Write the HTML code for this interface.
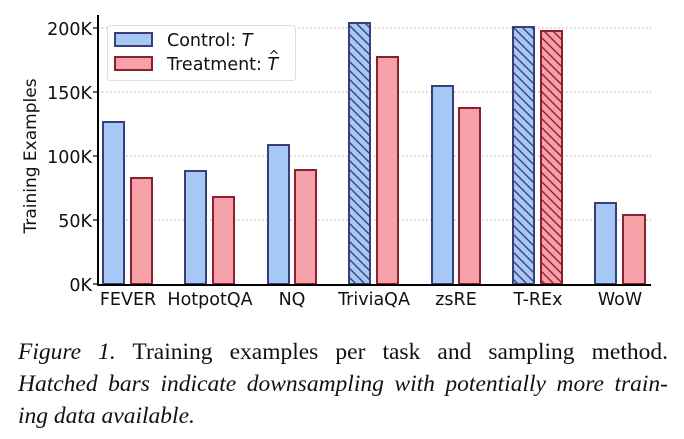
<!DOCTYPE html>
<html><head><style>
body{margin:0;background:#fff;width:684px;height:439px;overflow:hidden}
.cap{position:absolute;left:18px;width:650px;top:336px;font-family:"Liberation Serif",serif;font-size:23.5px;line-height:32px;color:#111}
.j{text-align:justify;text-align-last:justify;white-space:nowrap}
</style></head><body>
<svg width="684" height="330" style="position:absolute;left:0;top:0" font-family="DejaVu Sans, sans-serif">
<defs>
<pattern id="hb" patternUnits="userSpaceOnUse" width="9" height="9">
<rect width="9" height="9" fill="#a6c8f4"/>
<path d="M-1,-1 L10,10 M-10,-1 L1,10 M8,-1 L19,10" stroke="#3a3f7a" stroke-width="1.4"/>
</pattern>
<pattern id="hr" patternUnits="userSpaceOnUse" width="9" height="9">
<rect width="9" height="9" fill="#f6a0a8"/>
<path d="M-1,-1 L10,10 M-10,-1 L1,10 M8,-1 L19,10" stroke="#8b2030" stroke-width="1.4"/>
</pattern>
</defs>
<g stroke="#aaa" stroke-dasharray="1.5,2.5" stroke-width="1">
<line x1="98" y1="28" x2="651" y2="28"/><line x1="98" y1="92" x2="651" y2="92"/>
<line x1="98" y1="156" x2="651" y2="156"/><line x1="98" y1="220" x2="651" y2="220"/>
</g>
<g stroke-width="2">
<rect x="103" y="122" width="21" height="162" fill="#a6c8f4" stroke="#3a3f7a"/>
<rect x="131" y="178" width="21" height="106" fill="#f6a0a8" stroke="#8b2030"/>
<rect x="185" y="171" width="21" height="113" fill="#a6c8f4" stroke="#3a3f7a"/>
<rect x="213" y="197" width="21" height="87" fill="#f6a0a8" stroke="#8b2030"/>
<rect x="268" y="145" width="21" height="139" fill="#a6c8f4" stroke="#3a3f7a"/>
<rect x="295" y="170" width="21" height="114" fill="#f6a0a8" stroke="#8b2030"/>
<rect x="349" y="23" width="21" height="261" fill="url(#hb)" stroke="#3a3f7a"/>
<rect x="377" y="57" width="21" height="227" fill="#f6a0a8" stroke="#8b2030"/>
<rect x="432" y="86" width="21" height="198" fill="#a6c8f4" stroke="#3a3f7a"/>
<rect x="459" y="108" width="21" height="176" fill="#f6a0a8" stroke="#8b2030"/>
<rect x="513" y="27" width="21" height="257" fill="url(#hb)" stroke="#3a3f7a"/>
<rect x="541" y="31" width="21" height="253" fill="url(#hr)" stroke="#8b2030"/>
<rect x="595" y="203" width="21" height="81" fill="#a6c8f4" stroke="#3a3f7a"/>
<rect x="623" y="215" width="22" height="69" fill="#f6a0a8" stroke="#8b2030"/>
</g>
<line x1="98" y1="15" x2="98" y2="285" stroke="#000" stroke-width="2"/>
<line x1="97" y1="285" x2="651" y2="285" stroke="#000" stroke-width="2"/>
<g stroke="#000" stroke-width="1.2">
<line x1="93" y1="28" x2="98" y2="28"/><line x1="93" y1="92" x2="98" y2="92"/><line x1="93" y1="156" x2="98" y2="156"/><line x1="93" y1="220" x2="98" y2="220"/><line x1="93" y1="284" x2="98" y2="284"/>
</g>
<g font-size="17.5" text-anchor="end" fill="#111">
<text x="92" y="35">200K</text><text x="92" y="99">150K</text><text x="92" y="163">100K</text><text x="92" y="227">50K</text><text x="92" y="291">0K</text>
</g>
<text transform="translate(36,156) rotate(-90)" font-size="17" text-anchor="middle" fill="#111">Training Examples</text>
<g font-size="17.5" text-anchor="middle" fill="#111">
<text x="128" y="305">FEVER</text><text x="210" y="305">HotpotQA</text><text x="292" y="305">NQ</text><text x="374" y="305">TriviaQA</text><text x="456" y="305">zsRE</text><text x="538" y="305">T-REx</text><text x="620" y="305">WoW</text>
</g>
<rect x="107.5" y="25.5" width="188" height="55" rx="3" fill="#fff" fill-opacity="0.85" stroke="#ddd"/>
<rect x="115" y="33" width="37" height="13" fill="#a6c8f4" stroke="#3a3f7a" stroke-width="2"/>
<rect x="115" y="57" width="37" height="13" fill="#f6a0a8" stroke="#8b2030" stroke-width="2"/>
<text x="167" y="46" font-size="17.5" fill="#111">Control: <tspan font-style="italic">T</tspan></text>
<text x="167" y="70" font-size="17.5" fill="#111">Treatment: <tspan font-style="italic">T</tspan></text>
<text x="274" y="60" font-size="13" fill="#111" text-anchor="middle">^</text>
</svg>
<div class="cap"><div class="j"><i>Figure 1.</i> Training examples per task and sampling method.</div><div class="j"><i>Hatched bars indicate downsampling with potentially more train-</i></div><div><i>ing data available.</i></div></div>
</body></html>
